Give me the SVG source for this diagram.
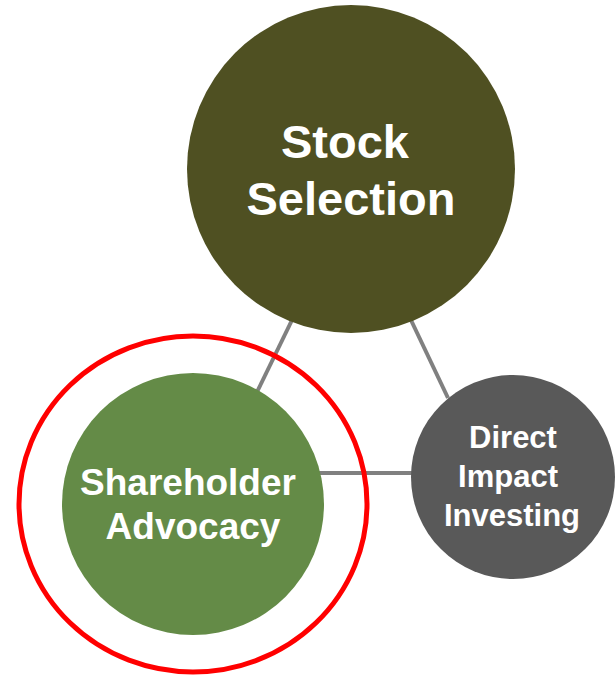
<svg xmlns="http://www.w3.org/2000/svg" width="616" height="675" viewBox="0 0 616 675">
<style>
.lbl{font-family:"Liberation Sans",Arial,sans-serif;font-weight:bold;fill:#FFFFFF;text-anchor:middle}
.conn line{stroke:#808080;stroke-width:4}
</style>
<rect width="616" height="675" fill="#FFFFFF"/>
<g id="connectors" class="conn">
<line x1="293" y1="318" x2="257" y2="392"/>
<line x1="410" y1="318" x2="448" y2="398"/>
<line x1="318" y1="473" x2="414" y2="473"/>
</g>
<g id="stock-selection">
<circle cx="351" cy="169" r="164" fill="#4F5022"/>
<text class="lbl" x="345" y="158" font-size="47">Stock</text>
<text class="lbl" x="351" y="215" font-size="47">Selection</text>
</g>
<g id="shareholder-advocacy">
<circle cx="193" cy="504" r="131" fill="#648B47"/>
<text class="lbl" x="188" y="495" font-size="37">Shareholder</text>
<text class="lbl" x="193" y="539" font-size="37">Advocacy</text>
</g>
<g id="direct-impact-investing">
<circle cx="513" cy="477" r="102" fill="#595959"/>
<text class="lbl" x="513" y="448" font-size="31">Direct</text>
<text class="lbl" x="508" y="487" font-size="31">Impact</text>
<text class="lbl" x="512" y="526" font-size="31">Investing</text>
</g>
<g id="highlight-ring">
<ellipse cx="193" cy="504" rx="174" ry="168" fill="none" stroke="#FF0000" stroke-width="5"/>
</g>
</svg>
